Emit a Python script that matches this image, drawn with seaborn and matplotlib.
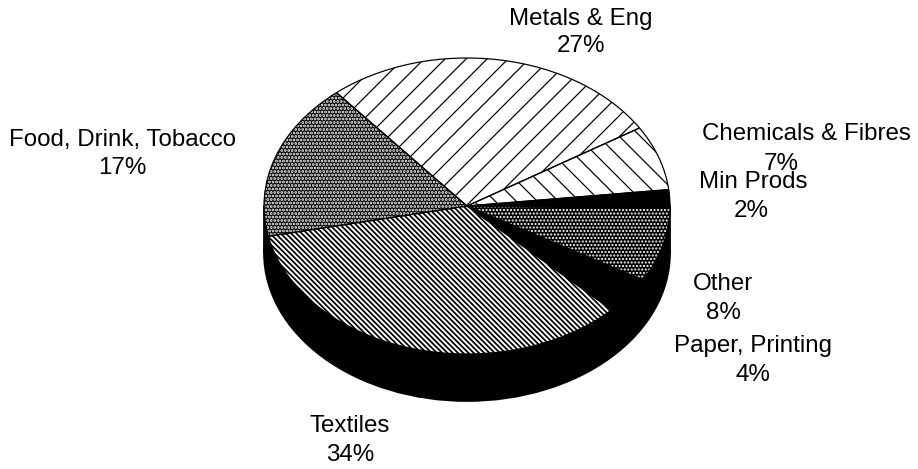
import matplotlib
matplotlib.use('Agg')
import matplotlib.pyplot as plt
from matplotlib.patches import Ellipse, Rectangle
import seaborn as sns

# going clockwise from the top left of the pie
sectors = ['Metals & Eng', 'Chemicals & Fibres', 'Min Prods', 'Other',
           'Paper, Printing', 'Textiles', 'Food, Drink, Tobacco']
shares = [27, 7, 2, 8, 4, 34, 17]
share_labels = ['27%', '7%', '2%', '8%', '4%', '34%', '17%']

# (hatch, background, hatch colour, hatch width) for each sector
fills = [('//', 'white', 'black', 0.7),
         ('\\\\', 'white', 'black', 0.7),
         ('', 'black', 'black', 0.7),
         ('.' * 6, 'black', 'white', 0.8),
         ('', 'black', 'black', 0.7),
         ('\\' * 8, 'white', 'black', 1.0),
         ('.' * 6, 'black', 'white', 1.1)]

# label centres in pixels of the 918x469 picture: name then percentage
name_xy = [(581, 19), (806, 134), (753, 182), (723, 284), (753, 346),
           (350, 426), (122, 140)]
share_xy = [(581, 46), (781, 164), (751, 211), (723, 313), (753, 375),
            (350, 455), (122, 168)]

WIDTH, HEIGHT, DPI = 918, 469, 126
CX, CY, RX, RY, DEPTH = 467, 206, 203, 148, 47

sns.set_theme(style='white')
plt.rcParams['font.family'] = ['Liberation Sans', 'DejaVu Sans']
plt.rcParams['hatch.linewidth'] = 0.7

fig = plt.figure(figsize=(WIDTH / DPI, HEIGHT / DPI), dpi=DPI)
ax = fig.add_axes([0, 0, 1, 1])

# the black side of the disc goes underneath the pie
side_drop = DEPTH / RY
ax.add_patch(Ellipse((0, -side_drop), 2, 2, color='black', zorder=0))
ax.add_patch(Rectangle((-1, -side_drop), 2, side_drop, color='black', zorder=0))

wedges, _ = ax.pie(shares, startangle=130, counterclock=False,
                   wedgeprops={'linewidth': 0})
for wedge, (hatch, back, hatch_col, hatch_lw) in zip(wedges, fills):
    wedge.set_facecolor(back)
    wedge.set_edgecolor(hatch_col)
    wedge.set_hatch(hatch)
    # not there in every matplotlib
    if hasattr(wedge, 'set_hatch_linewidth'):
        wedge.set_hatch_linewidth(hatch_lw)

# black outlines on top, the hatch colour would otherwise be used for them
ax.pie(shares, startangle=130, counterclock=False,
       wedgeprops={'facecolor': 'none', 'edgecolor': 'black', 'linewidth': 0.7})

# pie() forces equal aspect, the picture has a squashed disc
ax.set_aspect('auto')
ax.set_xlim(-CX / RX, (WIDTH - CX) / RX)
ax.set_ylim(-(HEIGHT - CY) / RY, CY / RY)
ax.axis('off')

for name, share, nxy, sxy in zip(sectors, share_labels, name_xy, share_xy):
    fig.text(nxy[0] / WIDTH, 1 - nxy[1] / HEIGHT, name, fontsize=13.8,
             ha='center', va='center', color='black')
    fig.text(sxy[0] / WIDTH, 1 - sxy[1] / HEIGHT, share, fontsize=13.8,
             ha='center', va='center', color='black')

fig.savefig('out.png', dpi=DPI, facecolor='white')
plt.close()
